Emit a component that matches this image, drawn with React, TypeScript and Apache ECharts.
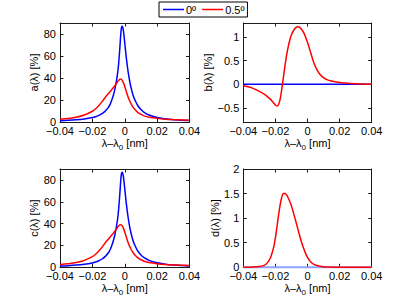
import React, { useEffect, useRef } from "react";
import * as echarts from "echarts";

// ---- data ----
const lambdaAC = [-0.04, -0.035, -0.03, -0.025, -0.02, -0.018, -0.016, -0.014, -0.012, -0.01, -0.009, -0.008, -0.007, -0.006, -0.005, -0.004, -0.003, -0.0025, -0.002, -0.0015, -0.001, -0.0005, 0, 0.001, 0.002, 0.003, 0.004, 0.005, 0.006, 0.008, 0.01, 0.012, 0.015, 0.02, 0.025, 0.03, 0.035, 0.04];
const aBlue = [1.2, 1.5, 2.0, 2.8, 4.0, 4.8, 6.0, 7.6, 10, 13.5, 16.3, 20, 24.5, 30.5, 38.5, 49.5, 68, 79, 86, 87, 84.5, 79, 72, 58, 46.5, 37.5, 30.5, 25, 21, 15, 11.3, 8.8, 6.3, 4.1, 2.9, 2.1, 1.6, 1.3];
const aRed = [2.5, 3.2, 4.3, 6.3, 9.8, 12, 15, 18.5, 22.5, 26, 27.8, 29.5, 31.3, 33.2, 35.3, 37.5, 38.8, 39, 38.6, 37.7, 36.3, 34.5, 32.3, 27.5, 23, 19.3, 16.3, 13.8, 11.8, 8.8, 6.9, 5.6, 4.4, 3.3, 2.6, 2.2, 1.9, 1.6];
const cBlue = [1.2, 1.5, 2.0, 2.8, 4.0, 4.8, 6.0, 7.6, 10, 13.5, 16.3, 20, 24.5, 30.5, 38.5, 49.5, 68, 79, 86, 87, 84.5, 79, 72, 58, 46.5, 37.5, 30.5, 25, 21, 15, 11.3, 8.8, 6.3, 4.1, 2.9, 2.1, 1.6, 1.3];
const cRed = [2.5, 3.2, 4.3, 6.3, 9.8, 12, 15, 18.5, 22.5, 26, 27.8, 29.5, 31.3, 33.2, 35.3, 37.5, 38.8, 39, 38.6, 37.7, 36.3, 34.5, 32.3, 27.5, 23, 19.3, 16.3, 13.8, 11.8, 8.8, 6.9, 5.6, 4.4, 3.3, 2.6, 2.2, 1.9, 1.6];

const lambdaBD = [-0.04, -0.035, -0.03, -0.027, -0.025, -0.023, -0.022, -0.021, -0.02, -0.019, -0.018, -0.017, -0.016, -0.015, -0.014, -0.013, -0.012, -0.011, -0.01, -0.008, -0.006, -0.004, -0.002, 0, 0.002, 0.004, 0.006, 0.008, 0.01, 0.012, 0.015, 0.02, 0.025, 0.03, 0.035, 0.04];
const bRed = [-0.03, -0.07, -0.15, -0.21, -0.26, -0.32, -0.36, -0.4, -0.44, -0.46, -0.43, -0.31, -0.09, 0.15, 0.4, 0.62, 0.8, 0.94, 1.05, 1.18, 1.22, 1.18, 1.07, 0.89, 0.67, 0.45, 0.3, 0.2, 0.14, 0.1, 0.07, 0.04, 0.02, 0.01, 0.005, 0.0];
const dRed = [0, 0.003, 0.015, 0.04, 0.09, 0.2, 0.3, 0.42, 0.6, 0.83, 1.07, 1.28, 1.43, 1.5, 1.5, 1.47, 1.41, 1.34, 1.25, 1.02, 0.78, 0.54, 0.35, 0.2, 0.11, 0.06, 0.035, 0.02, 0.012, 0.007, 0.004, 0.002, 0.001, 0, 0, 0];
const lambdaFlat = [-0.04, 0.04];
const bBlue = [0, 0];
const dBlue = [0, 0];

const xTicks = [-0.04, -0.02, 0, 0.02, 0.04];
const yTicksAC = [0, 20, 40, 60, 80];
const yTicksB = [-0.5, 0, 0.5, 1];
const yTicksD = [0, 0.5, 1, 1.5, 2];
const legendNames = ["0º", "0.5º"];
const yNames = ["a(λ) [%]", "b(λ) [%]", "c(λ) [%]", "d(λ) [%]"];

const FONT = "Liberation Sans";
const BLUE = "#0000ff";
const RED = "#ff0000";
const AX = "#1a1a1a";

const fmt = (v: number) => (v < 0 ? "\u2212" : "") + String(Math.abs(v));
const pairs = (xs: number[], ys: number[]) => xs.map((x, i) => [x, ys[i]]);

export default function App() {
  const ref = useRef<HTMLDivElement>(null);
  useEffect(() => {
    if (!ref.current) return;
    const chart = echarts.init(ref.current, undefined, { renderer: "svg" });

    const grids = [
      { left: 60, top: 23, width: 129.5, height: 99 },
      { left: 243.3, top: 23, width: 128.4, height: 99 },
      { left: 60, top: 169, width: 129.5, height: 98.3 },
      { left: 243.3, top: 169, width: 128.4, height: 98.3 },
    ];
    const yRanges = [
      { min: 0, max: 90, ticks: yTicksAC, gap: 17 },
      { min: -0.8, max: 1.3, ticks: yTicksB, gap: 26 },
      { min: 0, max: 90, ticks: yTicksAC, gap: 17 },
      { min: 0, max: 2, ticks: yTicksD, gap: 22 },
    ];

    const xAxes: any[] = [];
    const yAxes: any[] = [];
    grids.forEach((_, g) => {
      const common = {
        type: "value",
        gridIndex: g,
        axisLine: { show: true, onZero: false, lineStyle: { color: AX, width: 1 } },
        axisTick: { show: true, inside: true, length: 3.5, lineStyle: { color: AX } },
        splitLine: { show: false },
      };
      xAxes.push({
        ...common,
        position: "bottom",
        min: -0.04,
        max: 0.04,
        axisTick: { ...common.axisTick, customValues: xTicks },
        axisLabel: { customValues: xTicks, formatter: fmt, fontSize: 11, fontFamily: FONT, color: "#000", margin: 3 },
        name: "{n|λ–λ}{s|0}{n| [nm]}",
        nameLocation: "middle",
        nameGap: 13,
        nameTextStyle: {
          rich: {
            n: { fontSize: 11, fontFamily: FONT, color: "#000" },
            s: { fontSize: 8, fontFamily: FONT, color: "#000", padding: [8, 0, 0, 0] },
          },
        },
      });
      xAxes.push({
        ...common,
        position: "top",
        min: -0.04,
        max: 0.04,
        axisTick: { ...common.axisTick, customValues: xTicks },
        axisLabel: { show: false },
      });
      const r = yRanges[g];
      yAxes.push({
        ...common,
        position: "left",
        min: r.min,
        max: r.max,
        axisTick: { ...common.axisTick, customValues: r.ticks },
        axisLabel: { customValues: r.ticks, formatter: fmt, fontSize: 11, fontFamily: FONT, color: "#000", margin: 4 },
        name: yNames[g],
        nameLocation: "middle",
        nameGap: r.gap,
        nameTextStyle: { fontSize: 11, fontFamily: FONT, color: "#000" },
      });
      yAxes.push({
        ...common,
        position: "right",
        min: r.min,
        max: r.max,
        axisTick: { ...common.axisTick, customValues: r.ticks },
        axisLabel: { show: false },
      });
    });

    const line = (name: string, color: string, g: number, data: number[][], clip = true, z = 2, width = 1.5) => ({
      type: "line",
      name,
      xAxisIndex: g * 2,
      yAxisIndex: g * 2,
      data,
      showSymbol: false,
      symbol: "none",
      smooth: 0.35,
      clip,
      lineStyle: { color, width },
      itemStyle: { color: color === RED ? RED : BLUE },
      z,
    });

    const series = [
      line(legendNames[0], BLUE, 0, pairs(lambdaAC, aBlue)),
      line(legendNames[1], RED, 0, pairs(lambdaAC, aRed), true, 3),
      line(legendNames[0], BLUE, 1, pairs(lambdaFlat, bBlue)),
      line(legendNames[1], RED, 1, pairs(lambdaBD, bRed), true, 3),
      line(legendNames[0], BLUE, 2, pairs(lambdaAC, cBlue)),
      line(legendNames[1], RED, 2, pairs(lambdaAC, cRed), true, 3),
      line(legendNames[0], "#8ea2ff", 3, pairs(lambdaFlat, dBlue), false, 10, 2),
      line(legendNames[1], RED, 3, pairs(lambdaBD, dRed), true, 11),
    ];

    chart.setOption({
      animation: false,
      backgroundColor: "#fff",
      textStyle: { fontFamily: FONT },
      legend: {
        data: legendNames,
        left: 159,
        top: 2,
        padding: [2, 3, 2, 4],
        itemWidth: 21,
        itemHeight: 1.5,
        itemGap: 6,
        icon: "rect",
        borderColor: "#000",
        borderWidth: 1,
        textStyle: { fontSize: 11, fontFamily: FONT, color: "#000", padding: [0, 0, 0, -3] },
      },
      grid: grids,
      xAxis: xAxes,
      yAxis: yAxes,
      series,
    });
    return () => chart.dispose();
  }, []);
  return <div ref={ref} style={{ position: "absolute", left: 0, top: 0, width: 415, height: 308 }} />;
}
